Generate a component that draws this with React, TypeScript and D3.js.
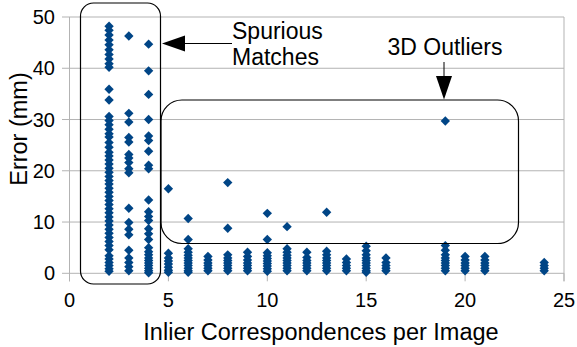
import React from "react";
import * as d3 from "d3";

const inliers = [2, 3, 4, 5, 6, 7, 8, 9, 10, 11, 12, 13, 14, 15, 16, 19, 20, 21, 24];
const err2 = [48.2, 47.4, 46.5, 45.5, 44.6, 43.6, 42.7, 41.8, 40.9, 40.2, 35.9, 33.8,
  30.6, 29.8, 29.0, 28.1, 27.2, 26.6, 25.5, 24.6, 23.6, 22.9, 22.1, 21.3, 20.5, 19.7, 18.9,
  18.1, 17.4, 16.6, 15.8, 15.0, 14.2, 13.4, 12.6, 11.8, 11.0, 10.2, 9.4, 8.6, 7.8, 7.0,
  6.2, 5.4, 4.6, 3.4, 2.8, 2.1, 1.5, 0.9, 0.4];
const err3 = [46.3, 31.2, 29.5, 26.5, 25.6, 23.2, 22.5, 21.6, 20.4, 19.6, 12.7, 9.9, 8.6,
  7.5, 4.5, 3.0, 2.1, 1.3, 0.5];
const err4 = [44.7, 39.5, 34.9, 30.0, 26.8, 25.9, 23.8, 21.1, 20.4, 14.3, 12.0, 11.1, 10.3,
  8.7, 7.7, 6.6, 5.0, 4.2, 3.6, 3.0, 2.5, 2.0, 1.5, 1.0, 0.5, 0.1];
const err5 = [16.5, 3.9, 3.0, 2.4, 1.8, 1.2, 0.6, 0.2];
const err6 = [10.7, 6.6, 4.8, 4.1, 3.5, 3.0, 2.5, 2.0, 1.5, 1.0, 0.5, 0.2];
const err7 = [3.3, 2.6, 2.0, 1.5, 1.0, 0.5];
const err8 = [17.7, 8.8, 3.6, 3.0, 2.5, 2.0, 1.5, 1.0, 0.5];
const err9 = [4.1, 3.3, 2.6, 2.0, 1.5, 1.0, 0.5];
const err10 = [11.7, 6.6, 4.0, 3.4, 2.9, 2.4, 1.9, 1.4, 0.9, 0.4];
const err11 = [9.1, 4.8, 4.1, 3.5, 3.0, 2.5, 2.0, 1.5, 1.0, 0.5];
const err12 = [4.1, 3.1, 2.5, 2.0, 1.5, 1.0, 0.5];
const err13 = [11.9, 4.3, 3.6, 3.0, 2.5, 2.0, 1.5, 1.0, 0.5];
const err14 = [2.8, 2.1, 1.5, 1.0, 0.5];
const err15 = [5.3, 4.4, 3.6, 3.0, 2.5, 2.0, 1.5, 1.0, 0.5, 0.2];
const err16 = [3.0, 2.1, 1.5, 1.0, 0.5];
const err19 = [29.7, 5.4, 4.5, 3.6, 3.0, 2.5, 2.0, 1.5, 1.0, 0.5];
const err20 = [3.3, 2.6, 2.0, 1.5, 1.0, 0.5];
const err21 = [3.3, 2.6, 2.0, 1.5, 1.0, 0.5];
const err24 = [2.1, 1.5, 1.0, 0.5];
const errors = [err2, err3, err4, err5, err6, err7, err8, err9, err10, err11, err12, err13,
  err14, err15, err16, err19, err20, err21, err24];

const xTicks = [0, 5, 10, 15, 20, 25];
const yTicks = [0, 10, 20, 30, 40, 50];
const xTitle = "Inlier Correspondences per Image";
const yTitle = "Error (mm)";

const W = 577;
const H = 347;
const FONT = "'Liberation Sans', Arial, sans-serif";
const BLUE = "#004586";
const GRID = "#b3b3b3";

export default function App() {
  const x = d3.scaleLinear().domain([0, 25]).range([69.5, 564]);
  const y = d3.scaleLinear().domain([0, 50]).range([273.3, 17]);
  const points: { x: number; y: number }[] = [];
  inliers.forEach((n, i) => errors[i].forEach((e) => points.push({ x: n, y: e })));
  const diamond = d3.symbol().type(d3.symbolDiamond2).size(56)() as string;

  return (
    <svg width={W} height={H} style={{ position: "absolute", left: 0, top: 0, background: "#fff" }}
      fontFamily={FONT}>
      {/* grid */}
      {yTicks.map((t) => (
        <g key={"y" + t}>
          <line x1={62} x2={x(25)} y1={y(t)} y2={y(t)} stroke={GRID} strokeWidth={1} />
          <text x={55} y={y(t)} dy="0.35em" textAnchor="end" fontSize={20} fill="#000">{t}</text>
        </g>
      ))}
      <line x1={x(0)} x2={x(0)} y1={y(50)} y2={y(0) + 8} stroke={GRID} strokeWidth={1} />
      <line x1={x(25)} x2={x(25)} y1={y(50)} y2={y(0) + 8} stroke={GRID} strokeWidth={1} />
      {xTicks.map((t) => (
        <g key={"x" + t}>
          <line x1={x(t)} x2={x(t)} y1={y(0)} y2={y(0) + 8} stroke={GRID} strokeWidth={1} />
          <text x={x(t)} y={306.5} textAnchor="middle" fontSize={20} fill="#000">{t}</text>
        </g>
      ))}
      {/* points */}
      {points.map((p, i) => (
        <path key={i} d={diamond} transform={`translate(${x(p.x)},${y(p.y)})`} fill={BLUE} />
      ))}
      {/* axis titles */}
      <text x={321} y={340} textAnchor="middle" fontSize={23.5} fill="#000">{xTitle}</text>
      <text transform="translate(27,129) rotate(-90)" textAnchor="middle" fontSize={23.5} fill="#000">{yTitle}</text>
      {/* annotations */}
      <rect x={80.5} y={3} width={80} height={281} rx={13} ry={13} fill="none" stroke="#000" strokeWidth={1.2} />
      <rect x={161} y={100} width={357.5} height={143.5} rx={21} ry={21} fill="none" stroke="#000" strokeWidth={1.2} />
      <line x1={232} x2={184} y1={43.5} y2={43.5} stroke="#000" strokeWidth={1} />
      <path d="M162,43.5 L185,35.5 L185,51.5 Z" fill="#000" />
      <text x={232} y={39.3} fontSize={23} fill="#000">Spurious</text>
      <text x={232} y={65} fontSize={23} fill="#000">Matches</text>
      <text x={387.5} y={55} fontSize={23} fill="#000">3D Outliers</text>
      <line x1={444} x2={444} y1={62} y2={77} stroke="#000" strokeWidth={1} />
      <path d="M436,76 L452,76 L444,99.5 Z" fill="#000" />
    </svg>
  );
}
